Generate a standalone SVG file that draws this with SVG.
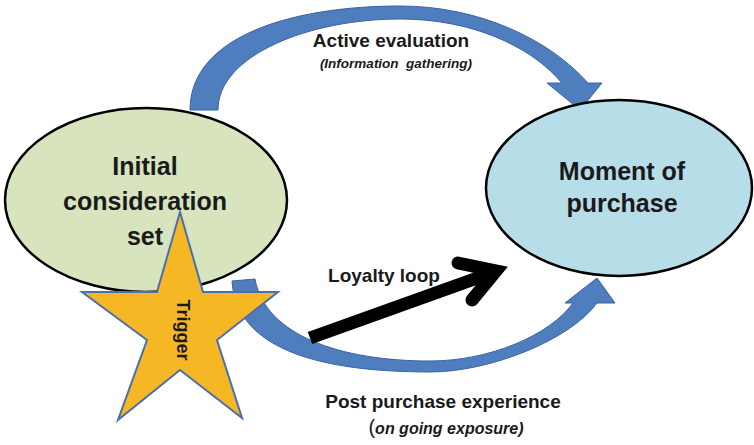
<svg xmlns="http://www.w3.org/2000/svg" width="754" height="445" viewBox="0 0 754 445">
<style>
.t{font-family:"Liberation Sans",Arial,sans-serif;font-weight:bold;fill:#1a1a1a;text-anchor:middle}
.big{font-size:25px}
.lbl{font-size:19px}
.it{font-style:italic}
.blue{fill:#4F7EBE;stroke:#3A63A0;stroke-width:1}
.ell{stroke:#000;stroke-width:2.5}
</style>
<rect width="754" height="445" fill="#fff"/>
<g id="connectors">
<path id="active-evaluation-arrow" class="blue" d="M190,110 C190,35 295,6 400,6 C480,6 550,40 588,83 L602,83 L580,110 L547,83 L562,83 C530,45 470,19 400,19 C310,19 218,55 218,110 Z"/>
<path id="post-purchase-arrow" class="blue" d="M232,281 C236,345 310,372 430,372 C490,372 570,340 597,303 L615,303 L597,278 L565,303 L573,303 C550,335 490,361 430,361 C340,361 265,335 255,279 Z"/>
<g id="loyalty-arrow" fill="none" stroke="#000" stroke-width="13">
<line x1="310" y1="338" x2="494" y2="272"/>
<polyline points="458,263 496,271 472,300" stroke-linecap="round" stroke-linejoin="miter"/>
</g>
</g>
<g id="initial-consideration-set">
<ellipse class="ell" cx="146" cy="200" rx="141" ry="92" fill="#D7E4BD"/>
</g>
<g id="trigger">
<polygon points="180,212 203,292 278,292 217,340 242,418 180,370 118,420 147,340 82,292 157,292" fill="#F5B824" stroke="#4A6FAE" stroke-width="2"/>
<text class="t" font-size="18" transform="translate(177,330) rotate(90)">Trigger</text>
</g>
<g id="initial-text">
<text class="t big" x="145" y="175">Initial</text>
<text class="t big" x="145" y="210">consideration</text>
<text class="t big" x="145" y="245">set</text>
</g>
<g id="moment-of-purchase">
<ellipse class="ell" cx="619" cy="188" rx="133" ry="88" fill="#B7DDE8"/>
<text class="t big" x="622" y="180">Moment of</text>
<text class="t big" x="622" y="212">purchase</text>
</g>
<g id="labels">
<text class="t lbl" x="391" y="47">Active evaluation</text>
<text class="t it" font-size="13.5" x="396" y="68" xml:space="preserve">(Information  gathering)</text>
<text class="t lbl" x="384" y="282">Loyalty loop</text>
<text class="t lbl" x="443" y="408">Post purchase experience</text>
<text class="t" font-size="16" x="446" y="434"><tspan font-size="20" font-weight="normal">(</tspan><tspan font-style="italic">on going exposure)</tspan></text>
</g>
</svg>
